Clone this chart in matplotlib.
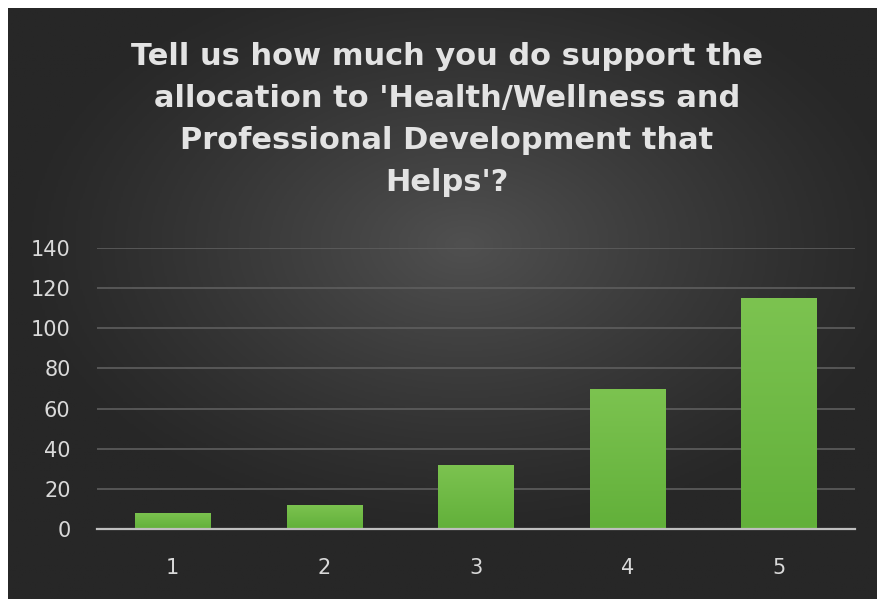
import numpy as np
import matplotlib.pyplot as plt
from matplotlib.colors import LinearSegmentedColormap

categories = ['1', '2', '3', '4', '5']
counts = [8, 12, 32, 70, 115]
y_ticks = [0, 20, 40, 60, 80, 100, 120, 140]
title = ("Tell us how much you do support the\n"
         "allocation to 'Health/Wellness and\n"
         "Professional Development that\n"
         "Helps'?")

W, H = 878, 599
fig = plt.figure(figsize=(W / 100, H / 100), dpi=100, facecolor='white')

# dark panel with a soft radial light, like the Excel chart style
bg = fig.add_axes([8 / W, 0, 1 - 8 / W, 1 - 8 / H])
gx, gy = np.meshgrid(np.linspace(-1, 1, 400), np.linspace(-1, 1, 300))
r = np.sqrt(((gx - 0.05) / 1.05) ** 2 + ((gy + 0.2) / 1.0) ** 2)
shade = np.clip(1 - r, 0, 1) ** 1.2
bg_cmap = LinearSegmentedColormap.from_list('bg', ['#272727', '#505050'])
bg.imshow(shade, cmap=bg_cmap, aspect='auto', extent=[0, 1, 0, 1], vmin=0, vmax=1)
bg.set_axis_off()

bg.text(447 / W, 1 - 42 / H, title, transform=fig.transFigure, ha='center', va='top',
        fontsize=22, fontweight='bold', color='#e3e3e3', linespacing=1.57,
        family='DejaVu Sans')

# plot area
x0, x1 = 97, 855
y0, y1 = 529, 248
ax = fig.add_axes([x0 / W, (H - y0) / H, (x1 - x0) / W, (y0 - y1) / H])
ax.patch.set_alpha(0)
xs = np.arange(len(categories))
bars = ax.bar(xs, counts, width=0.5, color='#6dbb45', zorder=3)

green = LinearSegmentedColormap.from_list('g', ['#62b03a', '#7cc350'])
grad = np.linspace(0, 1, 100).reshape(-1, 1)
for b in bars:
    im = ax.imshow(grad, cmap=green, aspect='auto', origin='lower', zorder=4,
                   extent=[b.get_x(), b.get_x() + b.get_width(), 0, b.get_height()])
    im.set_clip_path(b)

ax.set_xlim(-0.5, len(categories) - 0.5)
ax.set_ylim(0, 140)
ax.set_yticks(y_ticks)
ax.set_xticks(xs)
ax.set_xticklabels(categories)
ax.grid(axis='y', color='#5e5e5e', linewidth=1.2, zorder=0)
for s in ['top', 'right', 'left']:
    ax.spines[s].set_visible(False)
ax.spines['bottom'].set_color('#bfbfbf')
ax.spines['bottom'].set_linewidth(1.6)
ax.spines['bottom'].set_zorder(5)
ax.tick_params(axis='both', length=0, colors='#d9d9d9', labelsize=15)
ax.tick_params(axis='x', pad=21)
ax.tick_params(axis='y', pad=19)
for lab in ax.get_yticklabels():
    lab.set_horizontalalignment('right')

fig.savefig('out.png', dpi=100, facecolor='white')
